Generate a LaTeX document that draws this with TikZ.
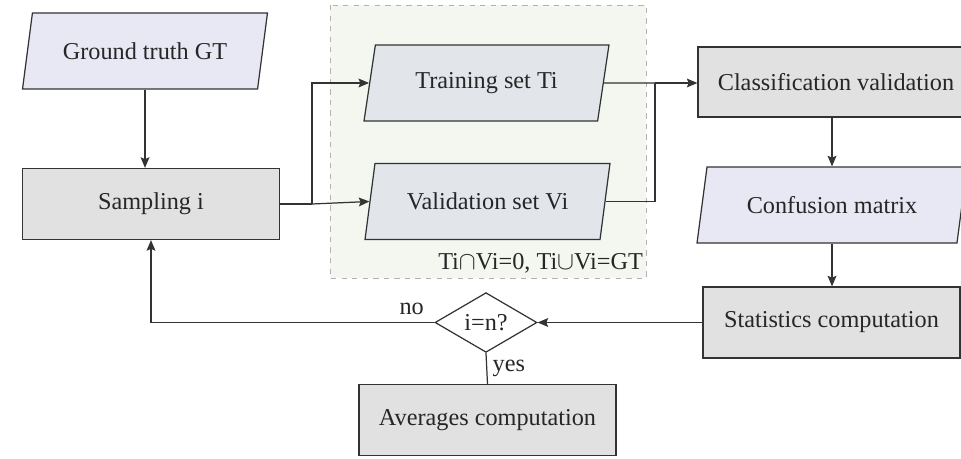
\documentclass[tikz,border=0pt]{standalone}
\usepackage{fontspec}
\setmainfont{Liberation Serif}
\usetikzlibrary{positioning, arrows.meta, shapes.geometric, backgrounds}

\definecolor{procfill}{HTML}{E1E1E1}
\definecolor{datafill}{HTML}{E8E8F5}
\definecolor{setfill}{HTML}{E2E5EA}
\definecolor{groupfill}{HTML}{F3F7F0}
\definecolor{lineclr}{HTML}{333333}

\begin{document}
\begin{tikzpicture}[
    x=0.02cm, y=-0.02cm,
    >={Stealth[length=6pt, width=5pt, inset=1pt]},
    every node/.style={font=\fontsize{13.8}{16}\selectfont, text=black!85},
    procbox/.style={draw=lineclr, rectangle, line width=0.7pt, fill=procfill, minimum width=5.14cm, minimum height=1.42cm, align=center},
    databox/.style={draw=lineclr, trapezium, trapezium left angle=71, trapezium right angle=109, trapezium stretches body, line width=0.7pt, fill=datafill, minimum width=4.9cm, minimum height=1.52cm, inner xsep=2pt, align=center},
    setbox/.style={databox, fill=setfill},
    decision/.style={draw=lineclr, diamond, line width=0.7pt, fill=white, minimum width=2.04cm, minimum height=0.98cm, inner sep=0pt},
    mainarrow/.style={->, line width=0.7pt, lineclr},
    plainline/.style={line width=0.7pt, lineclr},
    grouparea/.style={draw=black!30, dashed, fill=groupfill, line width=0.5pt}
]
\useasboundingbox (0,0) rectangle (961,459);

% ==========================================
% Left column
% ==========================================
\node[databox] (gt) at (145, 51) {Ground truth GT};
\node[procbox] (sampling) at (151, 204) {Sampling i};
\draw[mainarrow] (gt.south) -- (gt.south |- sampling.north);

% ==========================================
% Split into training / validation sets
% ==========================================
\begin{scope}[on background layer]
    \draw[grouparea] (330, 5) rectangle (646, 278);
\end{scope}
\node[setbox] (train) at (486.5, 83) {Training set Ti};
\node[setbox] (valid) at (487.5, 201.5) {Validation set Vi};
\node[anchor=south east, inner sep=1pt] (rule) at (645, 275) {Ti$\cap$Vi=0, Ti$\cup$Vi=GT};

\coordinate (split) at (312, 204);
\draw[plainline] (sampling.east) -- (split);
\draw[mainarrow] (split) |- (train.west);
\draw[mainarrow] (split) -- (valid.west);

% ==========================================
% Right column
% ==========================================
\node[procbox, minimum width=5.52cm, minimum height=1.4cm] (classif) at (836, 82) {Classification validation};
\node[databox, minimum width=5.4cm] (confusion) at (832, 205) {Confusion matrix};
\node[procbox] (stats) at (831.5, 322.5) {Statistics computation};

\coordinate (merge) at (655, 83);
\draw[plainline] (train.east) -- (merge);
\draw[plainline] (valid.east) -| (merge);
\draw[mainarrow] (merge) -- (classif.west |- merge);
\draw[mainarrow] (classif.south -| confusion.north) -- (confusion.north);
\draw[mainarrow] (confusion.south) -- (stats.north -| confusion.south);

% ==========================================
% Loop decision
% ==========================================
\node[decision] (check) at (486, 322.5) {i=n?};
\node[procbox] (avg) at (487.5, 420) {Averages computation};

\draw[mainarrow] (stats.west) -- (check.east);
\draw[mainarrow] (check.west) -- node[pos=0.08, above, inner sep=4pt] {no} (sampling.south |- check.west) -- (sampling.south);
\draw[plainline] (check.south) -- node[midway, right, inner sep=3pt] {yes} (avg.north);

\end{tikzpicture}
\end{document}
